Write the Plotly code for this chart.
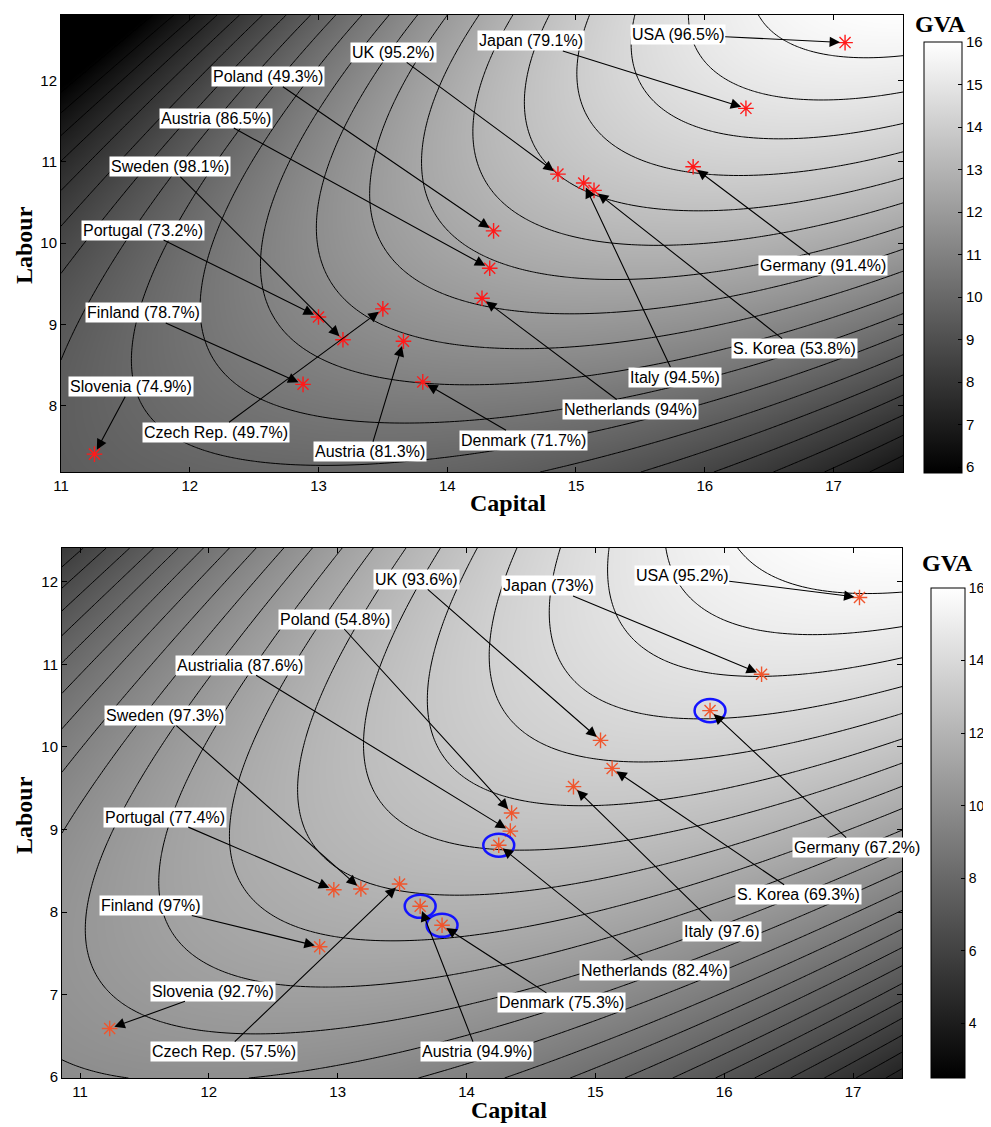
import numpy as np
import plotly.graph_objects as go

# ---------------- TOP PANEL DATA ----------------
top_labels = ["USA (96.5%)", "Japan (79.1%)", "UK (95.2%)", "Poland (49.3%)", "Austria (86.5%)",
              "Sweden (98.1%)", "Portugal (73.2%)", "Finland (78.7%)", "Slovenia (74.9%)",
              "Czech Rep. (49.7%)", "Austria (81.3%)", "Denmark (71.7%)", "Netherlands (94%)",
              "Italy (94.5%)", "S. Korea (53.8%)", "Germany (91.4%)"]
top_capital = [17.09, 16.32, 14.86, 14.36, 14.33, 13.19, 13.00, 12.88, 11.26, 13.50, 13.66, 13.81, 14.27, 15.06, 15.14, 15.91]
top_labour = [12.47, 11.66, 10.85, 10.15, 9.69, 8.81, 9.09, 8.26, 7.40, 9.19, 8.79, 8.29, 9.32, 10.74, 10.65, 10.94]
top_label_capital = [15.79, 14.65, 13.58, 12.61, 12.20, 11.85, 11.64, 11.64, 11.54, 12.20, 13.40, 14.59, 15.42, 15.77, 16.70, 16.92]
top_label_labour = [12.57, 12.49, 12.35, 12.05, 11.54, 10.94, 10.16, 9.14, 8.23, 7.67, 7.43, 7.57, 7.95, 8.35, 8.70, 9.73]

# isoquant points (GVA level, capital, labour)
top_iso_level = [15.5]*3 + [15.0]*2 + [14.5]*2 + [14.0]*9 + [13.5]*10 + [13.0]*2 + [12.5]*2 + [12.0]*3 + \
                [11.5]*5 + [11.0]*7 + [10.5]*5 + [10.0]*7 + [9.5]*6 + [9.0, 8.0, 7.0, 6.0]
top_iso_capital = [16.60, 17.09, 17.54,
                   15.96, 17.54,
                   15.50, 17.54,
                   15.03, 15.01, 15.05, 15.29, 15.60, 15.91, 16.33, 16.84, 17.54,
                   14.64, 14.61, 14.60, 14.69, 14.86, 15.15, 15.56, 16.33, 16.84, 17.54,
                   14.39, 17.54,
                   14.12, 17.54,
                   13.92, 14.40, 17.54,
                   13.76, 13.42, 13.89, 14.41, 17.54,
                   13.53, 12.67, 12.86, 13.37, 13.81, 14.41, 17.54,
                   13.34, 12.14, 12.34, 13.11, 14.41,
                   13.14, 11.64, 11.61, 11.69, 11.92, 14.40, 13.15,
                   12.99, 11.04, 11.12, 11.26, 11.38, 11.00,
                   12.80, 12.44, 12.08, 11.71]
top_iso_labour = [12.80, 12.47, 12.32,
                  12.80, 11.89,
                  12.80, 11.43,
                  12.79, 12.17, 11.64, 11.23, 10.99, 10.90, 10.86, 10.99, 11.10,
                  12.75, 12.17, 11.64, 11.15, 10.88, 10.60, 10.40, 10.41, 10.53, 10.75,
                  12.80, 10.47,
                  12.80, 10.16,
                  12.80, 9.38, 9.91,
                  12.80, 9.21, 8.84, 8.82, 9.64,
                  12.80, 9.17, 8.72, 8.27, 8.29, 8.31, 9.42,
                  12.80, 8.84, 7.94, 7.65, 7.80,
                  12.80, 7.18, 8.06, 8.77, 9.79, 7.48, 7.18,
                  12.80, 8.56, 7.77, 7.40, 7.18, 9.79,
                  12.80, 12.80, 12.80, 12.80]

# ---------------- BOTTOM PANEL DATA ----------------
bot_labels = ["USA (95.2%)", "Japan (73%)", "UK (93.6%)", "Poland (54.8%)", "Austrialia (87.6%)",
              "Sweden (97.3%)", "Portugal (77.4%)", "Finland (97%)", "Slovenia (92.7%)",
              "Czech Rep. (57.5%)", "Austria (94.9%)", "Denmark (75.3%)", "Netherlands (82.4%)",
              "Italy (97.6)", "S. Korea (69.3%)", "Germany (67.2%)"]
bot_capital = [17.05, 16.29, 15.04, 14.35, 14.34, 13.18, 12.97, 12.86, 11.23, 13.48, 13.64, 13.81, 14.25, 14.83, 15.13, 15.89]
bot_labour = [11.81, 10.88, 10.08, 9.20, 8.98, 8.28, 8.27, 7.58, 6.59, 8.34, 8.07, 7.84, 8.81, 9.52, 9.74, 10.44]
bot_label_capital = [15.67, 14.64, 13.61, 12.98, 12.24, 11.66, 11.66, 11.55, 12.03, 12.12, 14.08, 14.74, 15.46, 15.98, 16.58, 17.03]
bot_label_labour = [12.08, 11.95, 12.03, 11.55, 10.99, 10.38, 9.15, 8.08, 7.04, 6.31, 6.31, 6.90, 7.29, 7.77, 8.21, 8.78]
bot_efficient = ["Germany (67.2%)", "Netherlands (82.4%)", "Austria (94.9%)", "Denmark (75.3%)"]

bot_iso_level = [15.5]*5 + [15.0]*5 + [14.5]*8 + [14.0]*7 + [13.5]*6 + [13.0]*7 + [12.5]*4 + \
                [12.0]*6 + [11.5]*7 + [11.0]*7 + [10.5]*9 + [10.0]*3 + [9.0, 8.0, 7.0, 6.0]
bot_iso_capital = [16.18, 16.44, 16.83, 17.05, 17.37,
                   15.64, 15.79, 16.31, 16.70, 17.37,
                   15.06, 15.04, 15.20, 15.66, 16.00, 16.29, 16.70, 17.37,
                   14.60, 14.57, 14.70, 15.14, 15.89, 16.44, 17.37,
                   14.11, 14.37, 14.96, 15.48, 17.37, 14.30,
                   13.64, 14.16, 14.57, 14.88, 15.40, 17.37, 13.99,
                   13.64, 14.16, 14.88, 13.74,
                   12.71, 12.76, 13.10, 13.49, 14.26, 13.54,
                   12.14, 12.17, 12.35, 12.71, 12.97, 14.26, 13.31,
                   11.65, 11.62, 11.75, 12.06, 12.55, 12.97, 13.10,
                   11.31, 11.10, 11.18, 11.41, 11.83, 12.19, 12.97, 14.26, 12.86,
                   10.87, 11.23, 12.66,
                   12.19, 11.79, 11.37, 10.98]
bot_iso_labour = [12.38, 12.10, 11.88, 11.84, 11.84,
                  12.38, 11.90, 11.45, 11.35, 11.44,
                  12.38, 11.90, 11.50, 11.17, 10.89, 10.88, 10.90, 11.07,
                  12.38, 11.70, 11.05, 10.61, 10.44, 10.41, 10.71,
                  10.93, 10.32, 9.86, 9.83, 10.40, 12.41,
                  9.76, 9.44, 9.33, 9.32, 9.33, 10.08, 12.41,
                  8.93, 8.81, 8.83, 12.41,
                  9.11, 8.71, 8.38, 8.28, 8.26, 12.41,
                  9.11, 8.63, 8.22, 7.94, 7.74, 7.72, 12.41,
                  9.11, 8.30, 7.58, 7.29, 7.13, 7.15, 12.41,
                  9.11, 7.90, 7.09, 6.81, 6.57, 6.57, 6.73, 6.85, 12.41,
                  6.16, 5.99, 12.41,
                  12.41, 12.41, 12.41, 12.41]

top_xrange = [11.0, 17.54]
top_yrange = [7.18, 12.81]
bot_xrange = [10.86, 17.38]
bot_yrange = [5.99, 12.41]
top_crange = [5.86, 16.0]
bot_crange = [2.5, 16.0]

# page body keeps an 8 px margin: figure is laid out in window pixels minus that offset
OFF = 8
FW, FH = 991 - OFF, 1127 - OFF


def fx(px):
    return (px - OFF) / FW


def fy(py):
    return 1 - (py - OFF) / FH


def feats(k, l):
    u = (np.asarray(k, float) - 14.2) / 3.2
    v = (np.asarray(l, float) - 9.8) / 2.8
    return np.stack([np.ones_like(u), u, v, u * u, u * v, v * v,
                     u ** 3, u * u * v, u * v * v, v ** 3], axis=-1)


def surface_fit(k, l, z, lam=0.3):
    A = feats(k, l)
    z = np.asarray(z, float)
    D = np.diag([0, 0, 0, 0, 0, 0, 1, 1, 1, 1]) * lam
    return np.linalg.solve(A.T @ A + D, A.T @ z)


def surface(coef, xr, yr, n=170):
    kx = np.linspace(xr[0], xr[1], n)
    ly = np.linspace(yr[0], yr[1], n)
    K, L = np.meshgrid(kx, ly)
    return kx, ly, feats(K, L) @ coef


gray = [[0, "rgb(0,0,0)"], [1, "rgb(255,255,255)"]]
fig = go.Figure()

panels = [
    dict(xa="x", ya="y", xr=top_xrange, yr=top_yrange, cr=top_crange,
         iso=(top_iso_capital, top_iso_labour, top_iso_level),
         lab=top_labels, K=top_capital, L=top_labour, aK=top_label_capital, aL=top_label_labour,
         star="rgb(255,25,25)", cb=dict(x=fx(924), thick=38, y0=fy(473), y1=fy(42),
                                          tv=list(range(6, 17)), fs=15)),
    dict(xa="x2", ya="y2", xr=bot_xrange, yr=bot_yrange, cr=bot_crange,
         iso=(bot_iso_capital, bot_iso_labour, bot_iso_level),
         lab=bot_labels, K=bot_capital, L=bot_labour, aK=bot_label_capital, aL=bot_label_labour,
         star="rgb(240,85,45)", cb=dict(x=fx(931), thick=34, y0=fy(1078), y1=fy(588),
                                          tv=list(range(4, 17, 2)), fs=14)),
]

annotations = []
shapes = []
for p in panels:
    coef = surface_fit(*p["iso"])
    kx, ly, Z = surface(coef, p["xr"], p["yr"])
    cb = p["cb"]
    fig.add_trace(go.Heatmap(
        x=kx, y=ly, z=Z, xaxis=p["xa"], yaxis=p["ya"], colorscale=gray,
        zmin=p["cr"][0], zmax=p["cr"][1], zsmooth="best", hoverinfo="skip",
        colorbar=dict(x=cb["x"], xanchor="left", xpad=0, ypad=0, thickness=cb["thick"],
                      thicknessmode="pixels", len=cb["y1"] - cb["y0"], lenmode="fraction",
                      y=cb["y0"], yanchor="bottom", outlinewidth=1, outlinecolor="black",
                      tickvals=cb["tv"], ticks="inside", ticklen=4, tickcolor="black",
                      tickfont=dict(family="Liberation Sans", size=cb["fs"], color="black"))))
    fig.add_trace(go.Contour(
        x=kx, y=ly, z=Z, xaxis=p["xa"], yaxis=p["ya"], showscale=False,
        contours=dict(start=0.5, end=15.5, size=0.5, coloring="none"),
        line=dict(color="black", width=1), hoverinfo="skip"))
    fig.add_trace(go.Scatter(
        x=p["K"], y=p["L"], mode="markers", xaxis=p["xa"], yaxis=p["ya"],
        marker=dict(symbol="asterisk-open", size=13, color=p["star"],
                    line=dict(color=p["star"], width=1.4)),
        hoverinfo="skip", showlegend=False))
    for t, k, l, ak, al in zip(p["lab"], p["K"], p["L"], p["aK"], p["aL"]):
        annotations.append(dict(
            x=k, y=l, ax=ak, ay=al, xref=p["xa"], yref=p["ya"], axref=p["xa"], ayref=p["ya"],
            text=t, showarrow=True, arrowhead=2, arrowsize=1.9, arrowwidth=1.1, arrowcolor="black",
            standoff=5, bgcolor="white", borderpad=1,
            font=dict(family="Liberation Sans", size=16, color="black")))

# efficient units circled in the lower panel
for name in bot_efficient:
    i = bot_labels.index(name)
    shapes.append(dict(type="circle", xref="x2", yref="y2",
                       x0=bot_capital[i] - 0.12, x1=bot_capital[i] + 0.12,
                       y0=bot_labour[i] - 0.14, y1=bot_labour[i] + 0.14,
                       line=dict(color="rgb(20,20,255)", width=2.5)))

# axis titles (serif, bold)
title_font = dict(family="Liberation Serif", size=24, color="black")
for (x, y, txt, ang, ya) in [(508, 503, "Capital", 0, "middle"), (509, 1110, "Capital", 0, "middle"),
                             (24, 245, "Labour", -90, "middle"), (24, 815, "Labour", -90, "middle"),
                             (940, 9, "GVA", 0, "top"), (947, 563, "GVA", 0, "middle")]:
    annotations.append(dict(x=fx(x), y=fy(y), xref="paper", yref="paper", text="<b>%s</b>" % txt,
                            showarrow=False, textangle=ang, font=title_font,
                            xanchor="center", yanchor=ya))

axis_common = dict(showgrid=False, zeroline=False, showline=True, linecolor="black", linewidth=1,
                   mirror="ticks", ticks="inside", ticklen=5, tickcolor="black", automargin=False,
                   tickfont=dict(family="Liberation Sans", size=15, color="black"))

fig.update_layout(
    width=FW, height=FH, paper_bgcolor="white", plot_bgcolor="white",
    margin=dict(l=0, r=0, t=0, b=0, autoexpand=False), showlegend=False,
    xaxis=dict(domain=[fx(61), fx(903)], range=top_xrange, tickvals=list(range(11, 18)), anchor="y", **axis_common),
    yaxis=dict(domain=[fy(472), fy(15)], range=top_yrange, tickvals=list(range(8, 13)), anchor="x", **axis_common),
    xaxis2=dict(domain=[fx(62), fx(902)], range=bot_xrange, tickvals=list(range(11, 18)), anchor="y2", **axis_common),
    yaxis2=dict(domain=[fy(1078), fy(548)], range=bot_yrange, tickvals=list(range(6, 13)), anchor="x2", **axis_common),
    annotations=annotations, shapes=shapes,
)

fig.write_html("out.html")
